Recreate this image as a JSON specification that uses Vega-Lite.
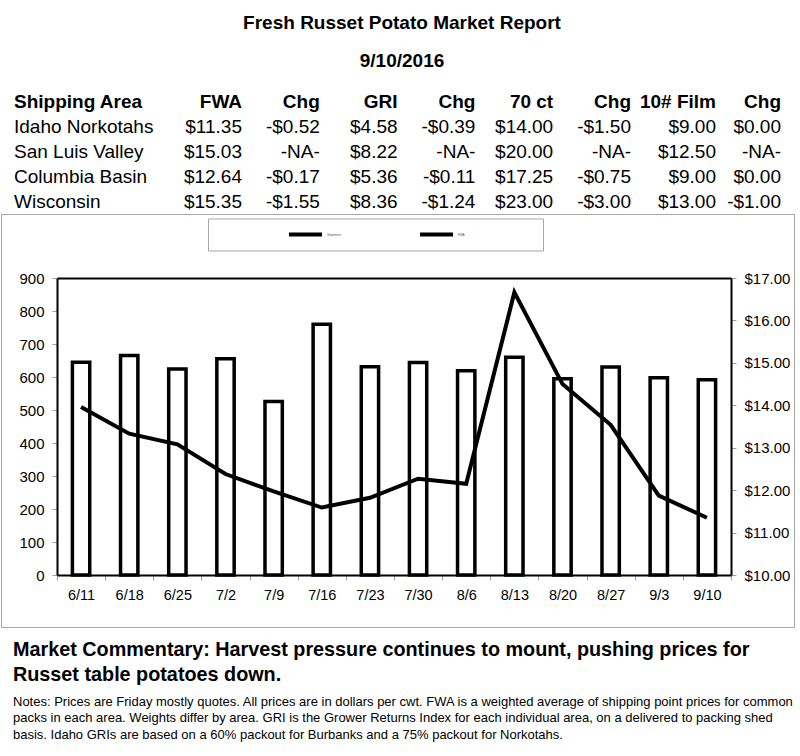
{
  "$schema": "https://vega.github.io/schema/vega-lite/v6.json",
  "padding": {"left": 0, "top": 13, "right": 0, "bottom": 0},
  "background": "white",
  "title": {
    "text": "Fresh Russet Potato Market Report",
    "subtitle": "9/10/2016",
    "anchor": "start",
    "align": "center",
    "dx": 401,
    "frame": "group",
    "font": "Liberation Sans",
    "subtitleFont": "Liberation Sans",
    "fontSize": 19,
    "subtitleFontSize": 19,
    "fontWeight": "bold",
    "subtitleFontWeight": "bold",
    "color": "#000",
    "subtitleColor": "#000",
    "subtitlePadding": 19.4,
    "offset": 17.8
  },
  "config": {"font": "Liberation Sans", "view": {"stroke": null}},
  "bounds": "flush",
  "spacing": 0,
  "datasets": {
    "table": [
      {"row": "header", "Area": "Shipping Area", "FWA": "FWA", "Chg1": "Chg", "GRI": "GRI", "Chg2": "Chg", "C70": "70 ct", "Chg3": "Chg", "Film": "10# Film", "Chg4": "Chg"},
      {"row": "r1", "Area": "Idaho Norkotahs", "FWA": "$11.35", "Chg1": "-$0.52", "GRI": "$4.58", "Chg2": "-$0.39", "C70": "$14.00", "Chg3": "-$1.50", "Film": "$9.00", "Chg4": "$0.00"},
      {"row": "r2", "Area": "San Luis Valley", "FWA": "$15.03", "Chg1": "-NA-", "GRI": "$8.22", "Chg2": "-NA-", "C70": "$20.00", "Chg3": "-NA-", "Film": "$12.50", "Chg4": "-NA-"},
      {"row": "r3", "Area": "Columbia Basin", "FWA": "$12.64", "Chg1": "-$0.17", "GRI": "$5.36", "Chg2": "-$0.11", "C70": "$17.25", "Chg3": "-$0.75", "Film": "$9.00", "Chg4": "$0.00"},
      {"row": "r4", "Area": "Wisconsin", "FWA": "$15.35", "Chg1": "-$1.55", "GRI": "$8.36", "Chg2": "-$1.24", "C70": "$23.00", "Chg3": "-$3.00", "Film": "$13.00", "Chg4": "-$1.00"}
    ],
    "weekly": [
      {"week": "6/11", "shipments": 645, "fwa": 13.96},
      {"week": "6/18", "shipments": 665, "fwa": 13.33},
      {"week": "6/25", "shipments": 624, "fwa": 13.08},
      {"week": "7/2", "shipments": 655, "fwa": 12.38},
      {"week": "7/9", "shipments": 526, "fwa": 11.97},
      {"week": "7/16", "shipments": 760, "fwa": 11.59},
      {"week": "7/23", "shipments": 631, "fwa": 11.82},
      {"week": "7/30", "shipments": 644, "fwa": 12.27},
      {"week": "8/6", "shipments": 619, "fwa": 12.15},
      {"week": "8/13", "shipments": 660, "fwa": 16.66},
      {"week": "8/20", "shipments": 595, "fwa": 14.5},
      {"week": "8/27", "shipments": 630, "fwa": 13.54},
      {"week": "9/3", "shipments": 598, "fwa": 11.87},
      {"week": "9/10", "shipments": 592, "fwa": 11.35}
    ],
    "notes": [
      {"kind": "commentary", "text": "Market Commentary: Harvest pressure continues to mount, pushing prices for\nRusset table potatoes down."},
      {"kind": "notes", "text": "Notes: Prices are Friday mostly quotes. All prices are in dollars per cwt. FWA is a weighted average of shipping point prices for  common\npacks in each area. Weights differ by area. GRI is the Grower Returns Index for each individual area, on a delivered to packing shed\nbasis. Idaho GRIs are based on a 60% packout for Burbanks and a 75% packout for Norkotahs."}
    ]
  },
  "vconcat": [
    {
      "width": 800,
      "height": 125,
      "data": {"name": "table"},
      "transform": [
        {"fold": ["Area", "FWA", "Chg1", "GRI", "Chg2", "C70", "Chg3", "Film", "Chg4"], "as": ["col", "cell"]}
      ],
      "encoding": {
        "y": {"field": "row", "type": "nominal", "scale": {"type": "point", "domain": ["header", "r1", "r2", "r3", "r4"], "padding": 0.5}, "axis": null},
        "text": {"field": "cell", "type": "nominal"}
      },
      "layer": [
        {
          "transform": [{"filter": "datum.row == 'header' && datum.col == 'Area'"}],
          "mark": {"type": "text", "align": "left", "baseline": "middle", "fontSize": 19, "fontWeight": "bold", "color": "#000"},
          "encoding": {"x": {"field": "col", "type": "nominal", "scale": {"type": "point", "domain": ["Area"], "range": [13, 13]}, "axis": null}}
        },
        {
          "transform": [{"filter": "datum.row == 'header' && indexof(['FWA','Chg1','GRI','Chg2','C70','Chg3'], datum.col) >= 0"}],
          "mark": {"type": "text", "align": "right", "baseline": "middle", "fontSize": 19, "fontWeight": "bold", "color": "#000"},
          "encoding": {"x": {"field": "col", "type": "nominal", "scale": {"type": "point", "domain": ["FWA", "Chg1", "GRI", "Chg2", "C70", "Chg3"], "range": [241, 630], "padding": 0}, "axis": null}}
        },
        {
          "transform": [{"filter": "datum.row == 'header' && indexof(['Film','Chg4'], datum.col) >= 0"}],
          "mark": {"type": "text", "align": "right", "baseline": "middle", "fontSize": 19, "fontWeight": "bold", "color": "#000"},
          "encoding": {"x": {"field": "col", "type": "nominal", "scale": {"type": "point", "domain": ["Film", "Chg4"], "range": [715, 780], "padding": 0}, "axis": null}}
        },
        {
          "transform": [{"filter": "datum.row != 'header' && datum.col == 'Area'"}],
          "mark": {"type": "text", "align": "left", "baseline": "middle", "fontSize": 19, "color": "#000"},
          "encoding": {"x": {"field": "col", "type": "nominal", "scale": {"type": "point", "domain": ["Area"], "range": [13, 13]}, "axis": null}}
        },
        {
          "transform": [{"filter": "datum.row != 'header' && indexof(['FWA','Chg1','GRI','Chg2','C70','Chg3'], datum.col) >= 0"}],
          "mark": {"type": "text", "align": "right", "baseline": "middle", "fontSize": 19, "color": "#000"},
          "encoding": {"x": {"field": "col", "type": "nominal", "scale": {"type": "point", "domain": ["FWA", "Chg1", "GRI", "Chg2", "C70", "Chg3"], "range": [241, 630], "padding": 0}, "axis": null}}
        },
        {
          "transform": [{"filter": "datum.row != 'header' && indexof(['Film','Chg4'], datum.col) >= 0"}],
          "mark": {"type": "text", "align": "right", "baseline": "middle", "fontSize": 19, "color": "#000"},
          "encoding": {"x": {"field": "col", "type": "nominal", "scale": {"type": "point", "domain": ["Film", "Chg4"], "range": [715, 780], "padding": 0}, "axis": null}}
        }
      ],
      "resolve": {"scale": {"x": "independent"}}
    },
    {
      "width": 793,
      "height": 413,
      "view": {"stroke": "#a6a6a6", "strokeWidth": 1},
      "data": {"name": "weekly"},
      "layer": [
        {
          "mark": {"type": "bar", "fill": "white", "strokeWidth": 3.5, "width": {"band": 0.36}},
          "encoding": {
            "x": {
              "field": "week", "type": "nominal", "sort": null,
              "scale": {"type": "band", "range": [56, 730], "paddingInner": 0, "paddingOuter": 0},
              "axis": {"orient": "bottom", "offset": -52, "title": null, "labelAngle": 0, "labelFontSize": 14.5, "labelColor": "#000", "labelPadding": 8, "domainColor": "#000", "domainWidth": 2, "tickBand": "extent", "tickColor": "#a0a0a0", "tickSize": 5, "tickWidth": 1, "grid": false}
            },
            "y": {
              "field": "shipments", "type": "quantitative",
              "scale": {"domain": [0, 900], "range": [361, 64], "nice": false},
              "axis": {"orient": "left", "offset": -56, "title": null, "values": [0, 100, 200, 300, 400, 500, 600, 700, 800, 900], "labelFontSize": 15, "labelColor": "#000", "labelPadding": 8, "domainColor": "#000", "domainWidth": 2, "tickColor": "#a0a0a0", "tickSize": 5, "tickWidth": 1, "grid": false}
            },
            "stroke": {
              "datum": "Shipments", "type": "nominal",
              "scale": {"domain": ["Shipments", "FWA"], "range": ["#000", "#000"]},
              "legend": {
                "orient": "none", "legendX": 207, "legendY": 129.5, "direction": "horizontal",
                "title": " ", "titleOrient": "left", "titleFontSize": 1, "titlePadding": 79,
                "padding": 0, "strokeColor": "#a6a6a6",
                "symbolType": "stroke", "symbolSize": 1089, "symbolStrokeWidth": 4, "clipHeight": 32,
                "labelFontSize": 3, "labelColor": "#555", "labelOffset": 3, "columnPadding": 76, "labelLimit": 300,
                "labelExpr": "datum.label == 'FWA' ? pad(datum.label, 97, '\u00a0') + '\u200b' : datum.label"
              }
            }
          }
        },
        {
          "mark": {"type": "line", "strokeWidth": 4},
          "encoding": {
            "x": {
              "field": "week", "type": "nominal", "sort": null,
              "axis": {"orient": "top", "offset": -64, "title": null, "labels": false, "ticks": false, "domainColor": "#000", "domainWidth": 2, "grid": false}
            },
            "y": {
              "field": "fwa", "type": "quantitative",
              "scale": {"domain": [10, 17], "range": [361, 64], "nice": false, "zero": false},
              "axis": {"orient": "right", "offset": -63, "title": null, "format": "$.2f", "values": [10, 11, 12, 13, 14, 15, 16, 17], "labelFontSize": 15, "labelColor": "#000", "labelPadding": 8, "domainColor": "#000", "domainWidth": 2, "tickColor": "#a0a0a0", "tickSize": 5, "tickWidth": 1, "grid": false}
            },
            "stroke": {"datum": "FWA", "type": "nominal"}
          }
        }
      ],
      "resolve": {"scale": {"y": "independent"}, "axis": {"x": "independent"}}
    },
    {
      "width": 800,
      "height": 107.7,
      "data": {"name": "notes"},
      "encoding": {
        "x": {"field": "kind", "type": "nominal", "scale": {"type": "point", "domain": ["commentary", "notes"], "range": [12, 12]}, "axis": null},
        "y": {"field": "kind", "type": "nominal", "scale": {"type": "point", "domain": ["commentary", "notes"], "padding": 0.592}, "axis": null},
        "text": {"field": "text", "type": "nominal"}
      },
      "layer": [
        {
          "transform": [{"filter": "datum.kind == 'commentary'"}],
          "mark": {"type": "text", "align": "left", "baseline": "alphabetic", "fontSize": 19.8, "fontWeight": "bold", "lineBreak": "\n", "lineHeight": 24.6, "color": "#000"}
        },
        {
          "transform": [{"filter": "datum.kind == 'notes'"}],
          "mark": {"type": "text", "align": "left", "baseline": "alphabetic", "fontSize": 13, "lineBreak": "\n", "lineHeight": 16.5, "color": "#000"}
        }
      ]
    }
  ]
}
